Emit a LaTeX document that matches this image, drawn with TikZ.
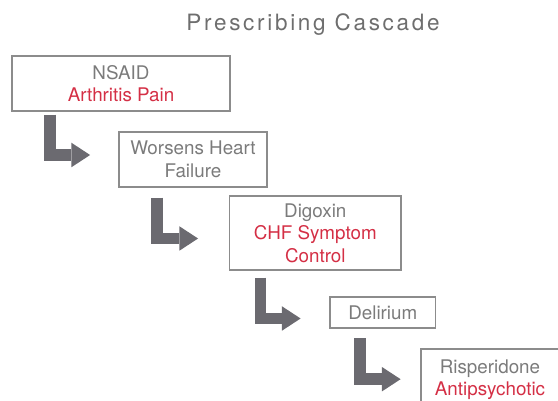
\documentclass[tikz,border=0pt]{standalone}
\usepackage{fontspec}
\setmainfont{TeX Gyre Heros}
\newfontfamily\titlefont[LetterSpace=12]{TeX Gyre Heros}
\usetikzlibrary{arrows.meta}
\definecolor{titlegray}{HTML}{6E6E6E}
\definecolor{textgray}{HTML}{7B7B7B}
\definecolor{causered}{HTML}{D42F45}
\definecolor{boxgray}{HTML}{8C8C8C}
\definecolor{arrowgray}{HTML}{6B6A70}
\begin{document}
\begin{tikzpicture}[x=1pt,y=-1pt,
    drugbox/.style={draw=boxgray,line width=1.2pt,inner sep=0pt,align=center,
        text=textgray,font=\fontsize{18.8}{22.5}\selectfont},
    cascade/.style={draw=arrowgray,line width=11.7pt,
        -{Triangle[length=18.7pt,width=24.5pt,line width=0pt]}}]
        \useasboundingbox (0,0) rectangle (558,401);
        \clip (0,0) rectangle (558,401);
        \node [anchor=base,text=titlegray,font=\titlefont\fontsize{22.5}{26}\selectfont] (title) at (313,31) {Prescribing Cascade};
        \node [drugbox,minimum width=218pt,minimum height=55pt] (nsaid) at (121,83.5) {NSAID\\\textcolor{causered}{Arthritis Pain}};
        \node [drugbox,minimum width=148pt,minimum height=55pt] (worsens) at (193,159.5) {Worsens Heart\\Failure};
        \node [drugbox,minimum width=171.5pt,minimum height=74pt] (digoxin) at (315.3,233) {Digoxin\\\textcolor{causered}{CHF Symptom}\\\textcolor{causered}{Control}};
        \node [drugbox,minimum width=105.6pt,minimum height=31pt] (delirium) at (382.8,312.5) {Delirium};
        \node [drugbox,minimum width=138pt,minimum height=61.5pt] (risperidone) at (490,379.7) {Risperidone\\\textcolor{causered}{Antipsychotic}};
        \draw [cascade] ([xshift=38.3pt,yshift=-3pt]nsaid.south west) |- ([xshift=-28.3pt,yshift=4.5pt]worsens.west);
        \draw [cascade] ([xshift=38.9pt,yshift=-10pt]worsens.south west) |- ([xshift=-30.9pt,yshift=-5.5pt]digoxin.west);
        \draw [cascade] ([xshift=31.5pt,yshift=-7pt]digoxin.south west) |- ([xshift=-28.8pt,yshift=-6pt]delirium.west);
        \draw [cascade] ([xshift=30.8pt,yshift=-9.7pt]delirium.south west) |- ([xshift=-19.8pt,yshift=0.5pt]risperidone.west);
    \end{tikzpicture}
\end{document}
